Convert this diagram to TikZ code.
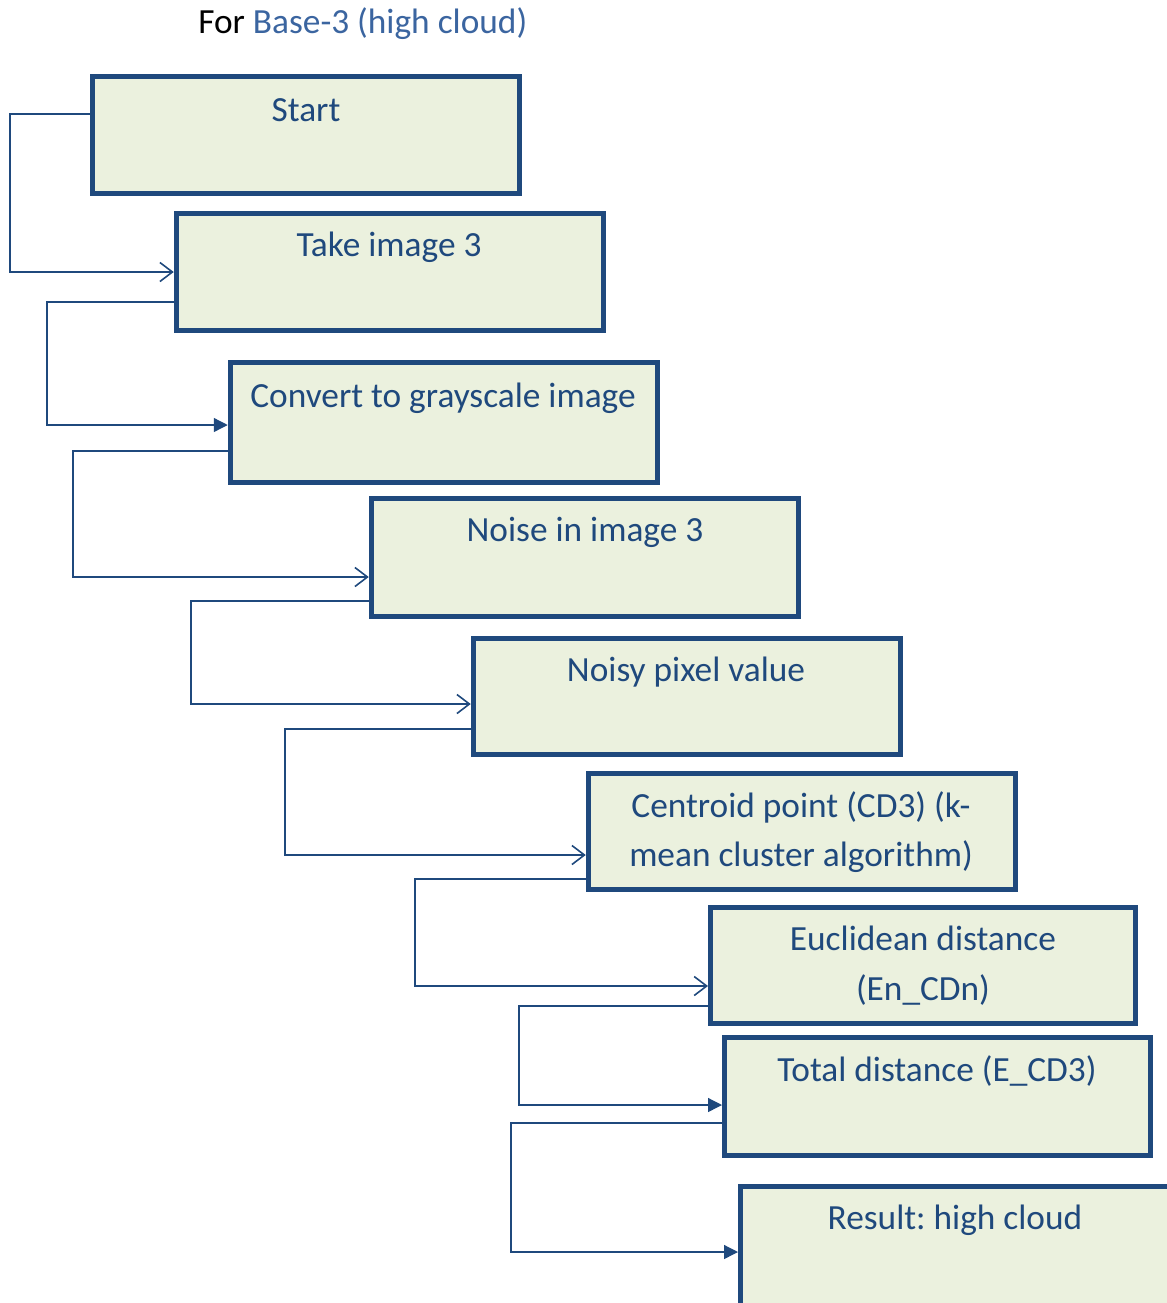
\documentclass[tikz,border=0pt]{standalone}
\usepackage{fontspec}
\setmainfont{Carlito}
\frenchspacing
\usetikzlibrary{arrows.meta}
\newcommand\pxu{0.75pt}
\definecolor{navy}{HTML}{1F497D}
\definecolor{boxfill}{HTML}{EBF1DE}
\definecolor{titleblue}{HTML}{3B65A0}
\tikzset{
  stepbox/.style={draw=navy, line width=5*\pxu, fill=boxfill,
    minimum width=427.5*\pxu, minimum height=117*\pxu, inner sep=0pt},
  boxtext/.style={anchor=base, text=navy, font=\fontsize{26.5}{36.5}\selectfont, align=center, inner sep=0pt},
  conn/.style={draw=navy, line width=1.3*\pxu},
  openarr/.style={conn, -{Straight Barb[length=12.5*\pxu, width=19*\pxu, line width=1.6*\pxu]}},
  fillarr/.style={conn, -{Triangle[length=14*\pxu, width=14*\pxu]}},
}
\begin{document}
\begin{tikzpicture}[x=\pxu, y=-\pxu]
\useasboundingbox (0,0) rectangle (1167,1303);
\clip (0,0) rectangle (1167,1303);

% title
\node[anchor=base west, inner sep=0pt, font=\fontsize{26.5}{30}\selectfont] (title) at (198,33)
  {For \textcolor{titleblue}{Base-3 (high cloud)}};

% process boxes
\node[stepbox] (start)    at (306,134.5) {};
\node[stepbox] (take)     at (390,271.5) {};
\node[stepbox, minimum height=120*\pxu] (gray) at (444,422) {};
\node[stepbox, minimum height=118*\pxu] (noise) at (585,557.5) {};
\node[stepbox, minimum height=116*\pxu] (noisy) at (687,696.5) {};
\node[stepbox, minimum height=116*\pxu] (centroid) at (802,831.5) {};
\node[stepbox, minimum width=425*\pxu, minimum height=116*\pxu] (eucl) at (923,965.5) {};
\node[stepbox, minimum width=426*\pxu, minimum height=118*\pxu] (total) at (937.5,1096.5) {};
\node[stepbox, minimum width=440*\pxu, minimum height=130*\pxu] (result) at (960.5,1251.5) {};

% box texts
\node[boxtext] (tstart) at (306,121.5) {Start};
\node[boxtext] (ttake)  at (389,256.5) {Take image 3};
\node[boxtext] (tgray)  at (443,407.5) {Convert to grayscale image};
\node[boxtext] (tnoise) at (585,541.5) {Noise in image 3};
\node[boxtext] (tnoisy) at (686,681.5) {Noisy pixel value};
\node[boxtext] (tcent1) at (801,817.5) {Centroid point (CD3) (k-};
\node[boxtext] (tcent2) at (801,866.5) {mean cluster algorithm)};
\node[boxtext] (teucl1) at (923,950.5) {Euclidean distance};
\node[boxtext] (teucl2) at (923,1000.5) {(En\_CDn)};
\node[boxtext] (ttotal) at (937,1081.5) {Total distance (E\_CD3)};
\node[boxtext] (tresult) at (955,1229.5) {Result: high cloud};

% connectors: leave each box on its left side, run round and enter the next
\coordinate (k1) at (10,114);   \coordinate (k2) at (47,302);
\coordinate (k3) at (73,451);   \coordinate (k4) at (191,601);
\coordinate (k5) at (285,729);  \coordinate (k6) at (415,879);
\coordinate (k7) at (519,1006); \coordinate (k8) at (511,1123);

\draw[openarr] (start.west |- k1) -- (k1) |- (take.west |- 0,272);
\draw[fillarr] (take.west |- k2) -- (k2) |- (gray.west |- 0,425);
\draw[openarr] (gray.west |- k3) -- (k3) |- (noise.west |- 0,577);
\draw[openarr] (noise.west |- k4) -- (k4) |- (noisy.west |- 0,704);
\draw[openarr] (noisy.west |- k5) -- (k5) |- (centroid.west |- 0,855);
\draw[openarr] (centroid.west |- k6) -- (k6) |- (eucl.west |- 0,986);
\draw[fillarr] (eucl.west |- k7) -- (k7) |- (total.west |- 0,1105);
\draw[fillarr] (total.west |- k8) -- (k8) |- (result.west |- 0,1252);
\end{tikzpicture}
\end{document}
